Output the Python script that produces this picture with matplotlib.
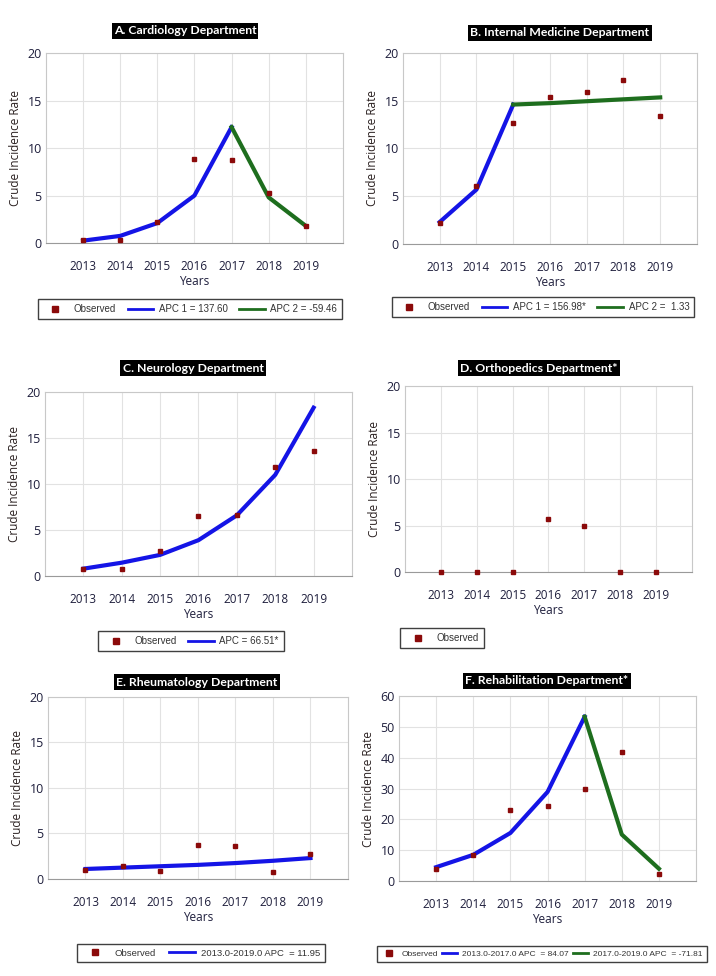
import matplotlib
matplotlib.use("Agg")
import matplotlib.pyplot as plt
from matplotlib.lines import Line2D

years = [2013, 2014, 2015, 2016, 2017, 2018, 2019]

# A. Cardiology
card_obs = [0.3, 0.35, 2.2, 8.8, 8.7, 5.3, 1.8]
card_fit1 = [0.25, 0.75, 2.1, 5.0, 12.2]
card_fit2 = [12.2, 4.8, 1.8]

# B. Internal medicine
intm_obs = [2.2, 6.1, 12.7, 15.4, 15.9, 17.2, 13.4]
intm_fit1 = [2.3, 5.7, 14.6]
intm_fit2 = [14.6, 14.75, 14.95, 15.15, 15.35]

# C. Neurology
neur_obs = [0.8, 0.75, 2.7, 6.55, 6.6, 11.8, 13.6]
neur_fit = [0.8, 1.45, 2.3, 3.9, 6.6, 11.0, 18.3]

# D. Orthopedics
orth_obs = [0, 0, 0, 5.7, 5.0, 0, 0]

# E. Rheumatology
rheu_obs = [0.95, 1.45, 0.85, 3.7, 3.6, 0.75, 2.75]
rheu_fit = [1.1, 1.25, 1.4, 1.55, 1.75, 2.0, 2.3]

# F. Rehabilitation
rehab_obs = [3.8, 8.3, 23.1, 24.3, 29.9, 41.8, 2.4]
rehab_fit1 = [4.5, 8.5, 15.6, 28.9, 53.3]
rehab_fit2 = [53.3, 15.1, 4.0]

BLUE = "#1414e6"
GREEN = "#1e6e1e"
RED = "#8b0a0a"
TXT = "#1e1e3c"

fig = plt.figure(figsize=(7.16, 9.76), dpi=100)


def panel(rect, title, title_xy, ymax, ystep):
    ax = fig.add_axes(rect)
    ax.set_xlim(2012, 2020)
    ax.set_ylim(0, ymax)
    ax.set_xticks(years)
    ax.set_yticks(range(0, ymax + 1, ystep))
    ax.grid(True, color="#e2e2e2", linewidth=0.8)
    ax.set_axisbelow(True)
    for s in ax.spines.values():
        s.set_color("#c8c8c8")
        s.set_linewidth(0.8)
    ax.spines["bottom"].set_color("#9a9a9a")
    ax.tick_params(axis="x", length=0, pad=12, labelsize=8.5, labelcolor=TXT)
    ax.tick_params(axis="y", length=0, pad=3, labelsize=9, labelcolor=TXT)
    for lab in ax.get_xticklabels() + ax.get_yticklabels():
        lab.set_family("Open Sans")
    ax.set_xlabel("Years", fontsize=8.5, color=TXT, family="Open Sans", labelpad=2)
    ax.set_ylabel("Crude Incidence Rate", fontsize=8.5, color="#2a2020",
                  family="Open Sans", labelpad=4)
    fig.text(title_xy[0], title_xy[1], title, ha="center", va="center",
             color="white", fontsize=8.8, fontweight="bold", family="Lato",
             bbox=dict(facecolor="black", edgecolor="none", pad=1.5))
    return ax


def legend(handles, labels, cx, cy, size=7, hl=2.6, cs=1.2):
    leg = fig.legend(handles, labels, loc="center", bbox_to_anchor=(cx, cy),
                     ncol=len(handles), fancybox=False, edgecolor="#404040",
                     framealpha=1, handlelength=hl,
                     columnspacing=cs, handletextpad=0.6, borderpad=0.5,
                     prop={"family": "Liberation Sans", "size": size})
    leg.get_frame().set_linewidth(1.0)
    for t in leg.get_texts():
        t.set_color("#333333")
    return leg


def obs(ax, vals, ms=3.5):
    ax.plot(years, vals, linestyle="none", marker="s", markersize=ms,
            color=RED, zorder=4, clip_on=False)


h_obs = Line2D([], [], linestyle="none", marker="s", markersize=5, color=RED)
h_blue = Line2D([], [], color=BLUE, linewidth=2)
h_green = Line2D([], [], color=GREEN, linewidth=2)

# A
ax = panel([0.0642, 0.751, 0.4148, 0.1947], "A. Cardiology Department",
           (185 / 716, 1 - 31 / 976), 20, 5)
ax.plot(years[:5], card_fit1, color=BLUE, linewidth=3, zorder=3)
ax.plot(years[4:], card_fit2, color=GREEN, linewidth=3, zorder=3)
obs(ax, card_obs)
legend([h_obs, h_blue, h_green], ["Observed", "APC 1 = 137.60", "APC 2 = -59.46"],
       190 / 716, 1 - 309 / 976)

# B
ax = panel([0.5628, 0.75, 0.4106, 0.1957], "B. Internal Medicine Department",
           (560 / 716, 1 - 33 / 976), 20, 5)
ax.plot(years[:3], intm_fit1, color=BLUE, linewidth=3, zorder=3)
ax.plot(years[2:], intm_fit2, color=GREEN, linewidth=3, zorder=3)
obs(ax, intm_obs)
legend([h_obs, h_blue, h_green], ["Observed", "APC 1 = 156.98*", "APC 2 =  1.33"],
       543 / 716, 1 - 307 / 976)

# C
ax = panel([0.0628, 0.4098, 0.4288, 0.1885], "C. Neurology Department",
           (193 / 716, 1 - 368 / 976), 20, 5)
ax.plot(years, neur_fit, color=BLUE, linewidth=3, zorder=3)
obs(ax, neur_obs)
legend([h_obs, h_blue], ["Observed", "APC = 66.51*"], 191 / 716, 1 - 641 / 976)

# D
ax = panel([0.5656, 0.4139, 0.4008, 0.1906], "D. Orthopedics Department*",
           (539 / 716, 1 - 368 / 976), 20, 5)
obs(ax, orth_obs)
legend([h_obs], ["Observed"], 442 / 716, 1 - 638 / 976)

# E
ax = panel([0.067, 0.0994, 0.419, 0.1865], "E. Rheumatology Department",
           (197 / 716, 1 - 682 / 976), 20, 5)
ax.plot(years, rheu_fit, color=BLUE, linewidth=3, zorder=3)
obs(ax, rheu_obs)
legend([h_obs, h_blue], ["Observed", "2013.0-2019.0 APC  = 11.95"],
       201 / 716, 1 - 953 / 976, size=6.8, hl=2.8, cs=1.4)

# F
ax = panel([0.5573, 0.0973, 0.4148, 0.1895], "F. Rehabilitation Department*",
           (547 / 716, 1 - 681 / 976), 60, 10)
ax.plot(years[:5], rehab_fit1, color=BLUE, linewidth=3, zorder=3)
ax.plot(years[4:], rehab_fit2, color=GREEN, linewidth=3, zorder=3)
obs(ax, rehab_obs)
legend([h_obs, h_blue, h_green],
       ["Observed", "2013.0-2017.0 APC  = 84.07", "2017.0-2019.0 APC  = -71.81"],
       542 / 716, 1 - 954 / 976, size=6.0, hl=1.8, cs=0.5)

fig.savefig("out.png", dpi=100, facecolor="white")
